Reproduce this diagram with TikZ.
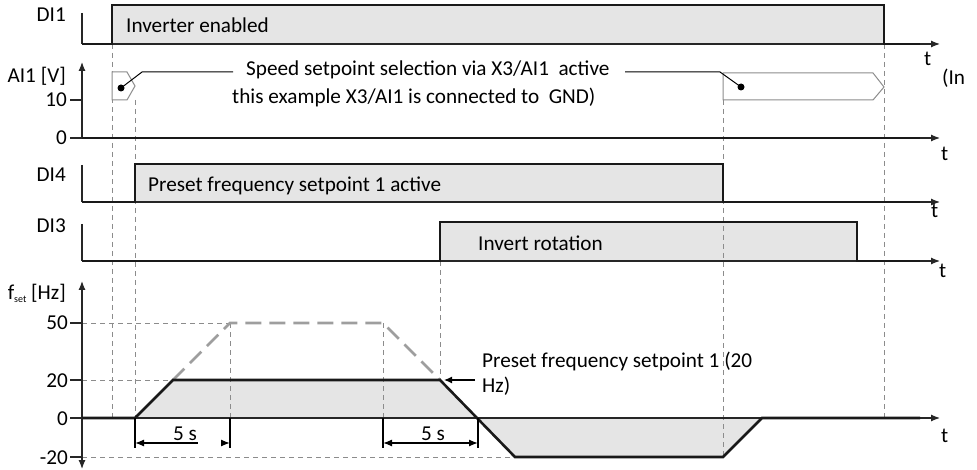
\documentclass[tikz,border=0pt]{standalone}
\usepackage{fontspec}
\setmainfont{Carlito}
\usetikzlibrary{arrows.meta}
\begin{document}
\begin{tikzpicture}[x=1pt,y=-1pt,
  sig/.style={line width=2.6pt, line join=miter, line cap=butt, draw=black!90},
  axisline/.style={line width=1.2pt, draw=black!85},
  arr/.style={-{Latex[length=9pt,width=7pt]}},
  thindash/.style={draw=black!45, line width=0.9pt, dash pattern=on 5pt off 4pt},
  bigdash/.style={draw=black!38, line width=2.8pt, dash pattern=on 16pt off 8pt},
  boxfill/.style={fill=black!10},
  marker/.style={draw=black!45, line width=1pt, fill=white},
  lbl/.style={font=\fontsize{21.2}{25}\selectfont, inner sep=0pt},
  dimline/.style={line width=1.3pt, draw=black},
]
\useasboundingbox (0,0) rectangle (977,470);

% ---------- fills ----------
\fill[boxfill] (112,44) rectangle (884,5);
\fill[boxfill] (135,202) rectangle (723,164);
\fill[boxfill] (440,261) rectangle (857,222);
\fill[boxfill] (135,418) -- (173,380) -- (440,380) -- (478,418) -- cycle;
\fill[boxfill] (478,418) -- (515,457) -- (723,457) -- (762,418) -- cycle;

% ---------- dashed guide lines ----------
\coordinate (g1t) at (112,44);  \coordinate (g1b) at (112,418);
\coordinate (g2t) at (135,100); \coordinate (g2b) at (135,418);
\coordinate (g3t) at (723,100); \coordinate (g3b) at (723,457);
\coordinate (g4t) at (884,44);  \coordinate (g4b) at (884,418);
\coordinate (g5t) at (440,261); \coordinate (g5b) at (440,380);
\coordinate (g6t) at (230,323); \coordinate (g6b) at (230,418);
\coordinate (g7t) at (383,323); \coordinate (g7b) at (383,418);
\draw[thindash] (g1t) -- (g1b);
\draw[thindash] (g2t) -- (g2b);
\draw[thindash] (g3t) -- (g3b);
\draw[thindash] (g4t) -- (g4b);
\draw[thindash] (g5t) -- (g5b);
\draw[thindash] (g6t) -- (g6b);
\draw[thindash] (g7t) -- (g7b);
\draw[thindash] (82,323) -- (230,323);
\draw[thindash] (82,380) -- (173,380);
\draw[thindash] (82,457) -- (515,457);

% ---------- DI1 ----------
\draw[axisline] (82,13) -- (82,44);
\draw[axisline,arr] (82,44) -- (940,44);
\draw[sig] (82,44) -- (112,44) -- (112,5) -- (884,5) -- (884,44) -- (920,44);
\node[lbl, anchor=base east] (di1) at (66,22) {DI1};
\node[lbl, anchor=base west] (inv) at (126,33) {Inverter enabled};
\node[lbl, anchor=base west] (t1) at (924,66) {t};
\node[lbl, anchor=base west] (in) at (942,85) {(In};

% ---------- AI1 ----------
\draw[axisline,arr] (82,138) -- (82,62);
\draw[axisline] (70,100) -- (82,100);
\draw[axisline] (70,138) -- (82,138);
\draw[axisline,arr] (82,138) -- (940,138);
\draw[sig] (82,138) -- (920,138);
\node[lbl, anchor=base east] (ai1) at (66,83) {AI1 [V]};
\node[lbl, anchor=base east] (ten) at (67,107) {10};
\node[lbl, anchor=base east] (zeroa) at (67,145) {0};
\node[lbl, anchor=base west] (t2) at (941,161) {t};

\draw[marker] (112,72) -- (127,72) -- (135,86) -- (127,100) -- (112,100) -- cycle;
\draw[marker] (723,73) -- (873,73) -- (884,87) -- (873,100) -- (723,100) -- cycle;
\coordinate (d1) at (121,88);
\coordinate (d2) at (741,87);
\fill (d1) circle (3.5pt);
\fill (d2) circle (3.5pt);
\draw[line width=1pt] (d1) -- (142,72) -- (233,72);
\draw[line width=1pt] (d2) -- (720,72) -- (625,72);
\node[lbl, anchor=base west] (sp1) at (246,76) {Speed setpoint selection via X3/AI1\ \ active};
\node[lbl, anchor=base west] (sp2) at (232,104) {this example X3/AI1 is connected to\ \ GND)};

% ---------- DI4 ----------
\draw[axisline] (82,165) -- (82,202);
\draw[axisline,arr] (82,202) -- (940,202);
\draw[sig] (82,202) -- (135,202) -- (135,164) -- (723,164) -- (723,202) -- (920,202);
\node[lbl, anchor=base east] (di4) at (66,182) {DI4};
\node[lbl, anchor=base west] (pf) at (148,192) {Preset frequency setpoint 1 active};
\node[lbl, anchor=base west] (t3) at (931,218) {t};

% ---------- DI3 ----------
\draw[axisline] (82,224) -- (82,261);
\draw[axisline,arr] (82,261) -- (940,261);
\draw[sig] (82,261) -- (440,261) -- (440,222) -- (857,222) -- (857,261) -- (920,261);
\node[lbl, anchor=base east] (di3) at (66,233) {DI3};
\node[lbl, anchor=base west] (ir) at (478,251) {Invert rotation};
\node[lbl, anchor=base west] (t4) at (939,278) {t};

% ---------- fset ----------
\draw[axisline,{Latex[length=9pt,width=7pt]}-{Latex[length=9pt,width=7pt]}] (82,469) -- (82,281);
\foreach \yy in {323,380,418,457} \draw[axisline] (70,\yy) -- (82,\yy);
\node[lbl, anchor=base east] (fs) at (66,300) {f\raisebox{-2.5pt}{\fontsize{10}{10}\selectfont set} [Hz]};
\node[lbl, anchor=base east] (l50) at (68,330) {50};
\node[lbl, anchor=base east] (l20) at (68,387) {20};
\node[lbl, anchor=base east] (l0) at (68,425) {0};
\node[lbl, anchor=base east] (lm20) at (68,464) {-20};

\draw[bigdash] (173,380) -- (230,323) -- (383,323) -- (440,380);
\draw[axisline,arr] (82,418) -- (940,418);
\draw[sig] (82,418) -- (135,418) -- (173,380) -- (440,380) -- (515,457) -- (723,457) -- (762,418) -- (920,418);
\node[lbl, anchor=base west] (t5) at (941,442) {t};

% dimensions
\draw[dimline] (135,418) -- (135,448);
\draw[dimline] (230,418) -- (230,448);
\draw[dimline] (383,418) -- (383,448);
\draw[dimline] (478,418) -- (478,448);
\draw[dimline,{Latex[length=9pt,width=7pt]}-] (135,443) -- (198,443);
\draw[dimline,-{Latex[length=9pt,width=7pt]}] (221,443) -- (230,443);
\draw[dimline,{Latex[length=9pt,width=7pt]}-{Latex[length=9pt,width=7pt]}] (383,443) -- (478,443);
\node[lbl, anchor=base] (five1) at (185,440) {5 s};
\node[lbl, anchor=base] (five2) at (433,440) {5 s};

% annotation
\node[lbl, anchor=base west] (ps1) at (482,367) {Preset frequency setpoint 1 (20};
\node[lbl, anchor=base west] (ps2) at (482,392) {Hz)};
\coordinate (corner) at (444,380);
\draw[dimline,-{Latex[length=8pt,width=7pt]}] (475,380) -- (corner);
\end{tikzpicture}
\end{document}
